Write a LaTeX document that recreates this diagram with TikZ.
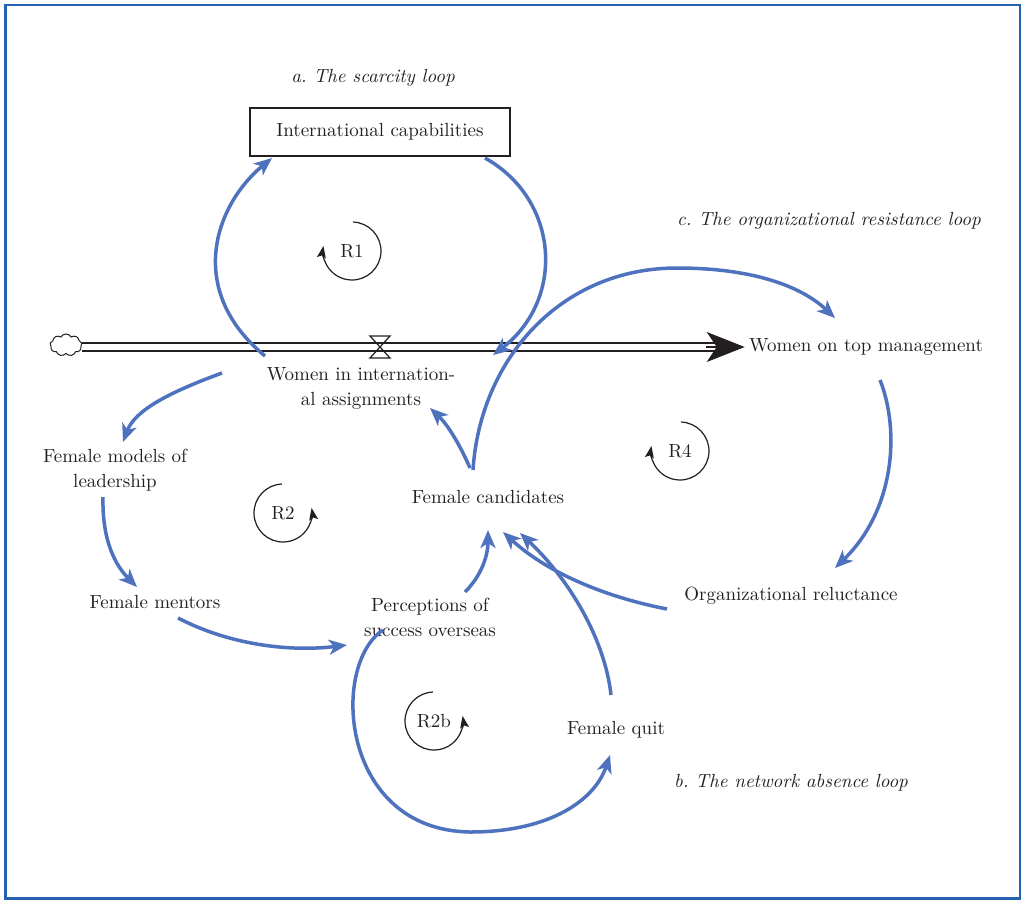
\documentclass[tikz,border=0pt]{standalone}
\usepackage{tikz}
\usetikzlibrary{positioning,calc,arrows.meta,shapes.symbols}
\definecolor{LinkBlue}{HTML}{4E72BD}
\definecolor{FrameBlue}{HTML}{2563B0}
\definecolor{NearBlack}{HTML}{231F20}
\frenchspacing

\begin{document}
\begin{tikzpicture}[x=0.5pt,y=-0.5pt,
  font=\fontsize{9.5}{12.5}\selectfont,
  varnode/.style={text=NearBlack,align=center,inner sep=2pt},
  stock/.style={varnode,draw=NearBlack,line width=1pt,minimum width=130pt,minimum height=24pt},
  looptitle/.style={text=NearBlack,font=\fontsize{9.5}{12.5}\selectfont\itshape},
  link/.style={draw=LinkBlue,line width=1.75pt,-{Stealth[length=9pt,width=7.5pt,inset=2.5pt]}},
  loopmark/.style={draw=NearBlack,line width=0.6pt,-{Stealth[length=6pt,width=4.5pt,inset=1.2pt]}},
  pipe/.style={draw=NearBlack,line width=0.6pt,double,double distance=3.4pt}]
\useasboundingbox (0,0) rectangle (1024,902);
\draw[FrameBlue,line width=1.3pt] (5.5,5) rectangle (1020,898.5);
% titles
\node[looptitle] (ta) at (373,78) {a. The scarcity loop};
\node[looptitle] (tc) at (829,221) {c. The organizational resistance loop};
\node[looptitle] (tb) at (791,783) {b. The network absence loop};
% variables
\node[stock] (ic) at (380,132) {International capabilities};
\node[varnode] (wia) at (361,388) {Women in internation-\\al assignments};
\node[varnode] (wtm) at (866,347) {Women on top management};
\node[varnode] (fml) at (115,470) {Female models of\\leadership};
\node[varnode] (fm) at (155,602) {Female mentors};
\node[varnode] (pso) at (430,617) {Perceptions of\\success overseas};
\node[varnode] (fc) at (488,497) {Female candidates};
\node[varnode] (orl) at (791,596) {Organizational reluctance};
\node[varnode] (fq) at (616,730) {Female quit};
% flow pipe
\node[cloud,draw=NearBlack,line width=0.5pt,cloud puffs=9,cloud puff arc=120,aspect=1.5,
      minimum width=16pt,minimum height=11pt,inner sep=0pt] (src) at (66,345) {};
\draw[pipe] (src.east |- wtm.west) -- ($(wtm.west)+(-20,0)$);
\draw[NearBlack,line width=0.6pt,-{Stealth[length=19pt,width=15pt,inset=5pt]}]
  ($(wtm.west)+(-39,0)$) -- (wtm.west);
\coordinate (valve) at (380,347);
\draw[NearBlack,line width=0.6pt] ($(valve)+(-10,-11)$) -- ($(valve)+(10,-11)$)
  -- ($(valve)+(-10,11)$) -- ($(valve)+(10,11)$) -- cycle;
% loop markers
\node[varnode] (r1) at (352,251) {R1};
\node[varnode] (r2) at (283,513) {R2};
\node[varnode] (r2b) at (434,721) {R2b};
\node[varnode] (r4) at (680,451) {R4};
\draw[loopmark] ($(r1)+(88:14.5pt)$) arc[start angle=88,end angle=-190,radius=14.5pt];
\draw[loopmark] ($(r2)+(92:14.5pt)$) arc[start angle=92,end angle=370,radius=14.5pt];
\draw[loopmark] ($(r2b)+(92:14.5pt)$) arc[start angle=92,end angle=370,radius=14.5pt];
\draw[loopmark] ($(r4)+(88:14.5pt)$) arc[start angle=88,end angle=-190,radius=14.5pt];
% a. scarcity loop
\draw[link] ($(wia)+(-96,-32)$) .. controls ($(wia)+(-176,-98)$) and ($(ic)+(-165,73)$) .. ($(ic)+(-108,26)$);
\draw[link] ($(ic)+(105,26)$) .. controls ($(ic)+(180,68)$) and ($(wia)+(204,-88)$) .. ($(wia)+(132,-33)$);
% R2
\draw[link] ($(wia)+(-139,-15)$) .. controls ($(wia)+(-191,4)$) and ($(fml)+(20,-60)$) .. ($(fml)+(8,-28)$);
\draw[link] ($(fml)+(-12,27)$) .. controls ($(fml)+(-13,70)$) and ($(fm)+(-40,-37)$) .. ($(fm)+(-18,-15)$);
\draw[link] ($(fm)+(23,16)$) .. controls ($(fm)+(75,43)$) and ($(pso)+(-140,35)$) .. ($(pso)+(-83,28)$);
\draw[link] ($(pso)+(35,-25)$) .. controls ($(pso)+(52,-42)$) and ($(fc)+(0,58)$) .. ($(fc)+(0,33)$);
\draw[link] ($(fc)+(-18,-29)$) .. controls ($(fc)+(-28,-52)$) and ($(wia)+(87,37)$) .. ($(wia)+(69,20)$);
% b. network absence loop
\draw[link] ($(pso)+(-47,13)$) .. controls ($(pso)+(-100,48)$) and ($(pso)+(-90,213)$) .. ($(pso)+(40,215)$)
  .. controls ($(fq)+(-66,102)$) and ($(fq)+(-21,70)$) .. ($(fq)+(-6,25)$);
\draw[link] ($(fq)+(-5,-35)$) .. controls ($(fq)+(-11,-90)$) and ($(fc)+(82,83)$) .. ($(fc)+(32,36)$);
% c. organizational resistance loop
\draw[link] ($(fc)+(-15,-27)$) .. controls ($(fc)+(-8,-137)$) and ($(wtm)+(-306,-79)$) .. ($(wtm)+(-189,-79)$)
  .. controls ($(wtm)+(-116,-79)$) and ($(wtm)+(-66,-62)$) .. ($(wtm)+(-31,-29)$);
\draw[link] ($(wtm)+(14,33)$) .. controls ($(wtm)+(34,83)$) and ($(orl)+(104,-86)$) .. ($(orl)+(44,-28)$);
\draw[link] ($(orl)+(-124,13)$) .. controls ($(orl)+(-181,2)$) and ($(fc)+(62,78)$) .. ($(fc)+(15,35)$);
\end{tikzpicture}
\end{document}
